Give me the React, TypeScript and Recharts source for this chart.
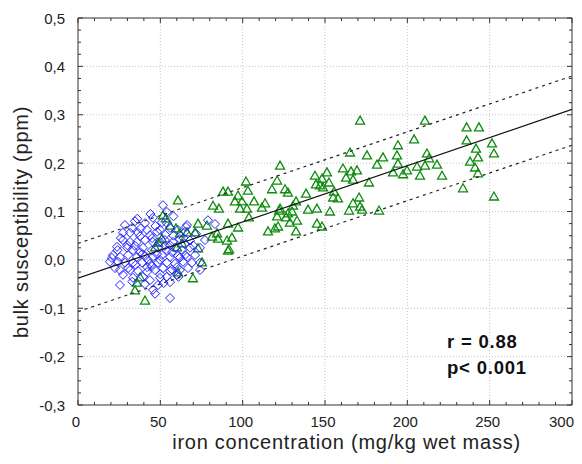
import React from 'react';
import { ScatterChart, Scatter, XAxis, YAxis, ReferenceLine } from 'recharts';

// ---- data ----
const greenX = [
  236, 243.5, 236, 241.7, 242.9, 238.1, 241.1, 242.9, 233.8, 251.4, 252.6, 252.6,
  210.7, 204.1, 194.3, 193.7, 194.3, 191.3, 197.4, 199.8, 205.9, 207.7, 211.9, 213.2, 210.7, 218.0, 221.1,
  171.3, 165.2, 175.5, 185.2, 181.6, 160.9, 165.8, 169.4, 162.8, 167.0, 151.2, 148.2, 152.4, 148.8, 176.7,
  155.5, 157.9, 154.9, 170.7, 167.0, 171.3, 164.6, 172.5, 153.0, 182.8, 148.2, 143.9, 144.5, 145.1, 139.7,
  145.1, 138.5, 147.0,
  122.7, 102.0, 120.9, 103.2, 117.8, 125.7, 127.5, 91.1, 88.1, 97.2, 95.3, 99.6, 106.9, 113.6, 98.4, 102.6,
  111.7, 132.4, 130.6, 130.0, 122.1, 127.5, 120.9, 126.3, 133.0, 128.7, 103.8, 91.1, 97.2, 115.4, 121.5,
  119.6, 93.5, 91.7, 132.4, 122.7,
  82.0, 85.6, 60.7, 51.6, 53.4, 72.9, 78.3, 55.9, 59.5, 61.9, 66.2, 71.1, 81.4, 84.4, 90.5, 85.0, 60.1,
  63.2, 91.1, 75.3, 69.8, 60.7, 37.7, 35.8, 34.6, 40.7, 51.0, 48.6, 46.8, 72.9,
];
const greenY = [
  0.275, 0.275, 0.248, 0.231, 0.213, 0.204, 0.192, 0.18, 0.149, 0.242, 0.221, 0.132,
  0.289, 0.25, 0.238, 0.217, 0.2, 0.182, 0.178, 0.186, 0.194, 0.175, 0.221, 0.211, 0.196, 0.198, 0.175,
  0.289, 0.223, 0.217, 0.213, 0.198, 0.19, 0.184, 0.186, 0.171, 0.167, 0.182, 0.169, 0.161, 0.151, 0.161,
  0.142, 0.128, 0.13, 0.13, 0.118, 0.111, 0.103, 0.105, 0.101, 0.103, 0.07, 0.175, 0.157, 0.107, 0.105,
  0.076, 0.138, 0.155,
  0.196, 0.163, 0.165, 0.144, 0.147, 0.147, 0.14, 0.142, 0.142, 0.134, 0.122, 0.122, 0.122, 0.118, 0.107, 0.107,
  0.109, 0.122, 0.113, 0.101, 0.103, 0.097, 0.091, 0.089, 0.082, 0.078, 0.089, 0.076, 0.068, 0.06, 0.07,
  0.066, 0.047, 0.023, 0.06, 0.107,
  0.113, 0.107, 0.124, 0.093, 0.087, 0.076, 0.072, 0.072, 0.066, 0.056, 0.058, 0.058, 0.049, 0.056, 0.041, 0.045, 0.027,
  0.035, 0.02, -0.004, -0.037, -0.025, -0.035, -0.046, -0.062, -0.083, 0.045, 0.037, 0.027, 0.025,
];
const blueX = [
  51.6, 54.0, 34.6, 40.7, 45.5, 51.0, 28.5, 32.8, 27.3, 31.6, 36.4, 41.9, 43.7, 48.0, 54.0, 55.9, 66.2, 65.0,
  27.3, 31.6, 35.8, 40.7, 45.5, 49.8, 52.8, 57.7, 61.9,
  23.7, 29.8, 33.4, 39.5, 44.9, 48.6, 54.0, 58.9, 63.2, 68.0,
  21.3, 25.5, 30.4, 35.8, 40.7, 45.5, 51.0, 55.9, 60.7, 66.2, 71.1,
  20.6, 24.3, 28.5, 33.4, 38.9, 43.7, 48.6, 54.0, 58.9, 63.8, 69.2,
  25.5, 31.6, 36.4, 41.9, 46.8, 51.6, 55.9, 61.9, 66.8,
  27.3, 33.4, 39.5, 43.7, 49.8, 54.0, 60.1, 25.5, 48.6, 45.5, 46.8, 55.9, 74.1,
  78.9, 83.2, 65.6, 60.7, 71.7, 65.0, 60.1, 74.1, 19.4, 22.5, 74.1, 77.1,
  37.7, 42.5, 49.8, 57.1, 34.6, 52.8, 30.4, 44.9, 65.0, 37.7, 49.8, 40.7, 55.9,
  26, 38, 47, 58, 62, 35, 42, 50, 57, 30, 45, 53, 64, 68, 24, 39, 56, 33, 52, 61, 70, 36, 44, 58, 48,
];
const blueY = [
  0.113, 0.099, 0.08, 0.076, 0.087, 0.078, 0.072, 0.066, 0.056, 0.056, 0.056, 0.062, 0.051, 0.058, 0.076, 0.066, 0.072, 0.058,
  0.041, 0.037, 0.037, 0.041, 0.037, 0.037, 0.041, 0.037, 0.043,
  0.027, 0.025, 0.02, 0.025, 0.02, 0.025, 0.02, 0.025, 0.02, 0.025,
  0.01, 0.006, 0.01, 0.006, 0.008, 0.006, 0.01, 0.006, 0.008, 0.006, 0.01,
  0.004, -0.004, -0.006, -0.006, -0.006, -0.008, -0.006, -0.006, -0.008, -0.004, -0.006,
  -0.021, -0.021, -0.023, -0.025, -0.021, -0.017, -0.023, -0.021, -0.017,
  -0.031, -0.037, -0.035, -0.042, -0.037, -0.035, -0.031, -0.052, -0.052, -0.062, -0.07, -0.079, -0.021,
  0.082, 0.074, 0.068, 0.062, 0.054, 0.01, -0.015, -0.006, -0.004, -0.017, 0.025, 0.041,
  0.016, 0.0, 0.0, 0.016, 0.029, 0.029, -0.017, -0.013, 0.033, 0.049, 0.062, -0.05, -0.046,
  0.045, 0.065, 0.07, 0.05, 0.005, -0.01, -0.015, -0.03, -0.02, 0.03, 0.045, 0.052, 0.045, 0.04, 0.02, 0.012,
  0.03, -0.045, -0.048, -0.035, 0.03, 0.085, 0.095, 0.09, 0.012,
];
const fitX = [0, 300];
const fitY = [-0.038, 0.311];
const upperY = [0.034, 0.38];
const lowerY = [-0.107, 0.237];

const xMajorTicks = [0, 50, 100, 150, 200, 250, 300];
const yMajorTicks = [-0.3, -0.2, -0.1, 0, 0.1, 0.2, 0.3, 0.4, 0.5];
const xTickLabels = ['0', '50', '100', '150', '200', '250', '300'];
const yTickLabels = ['-0,3', '-0,2', '-0,1', '0,0', '0,1', '0,2', '0,3', '0,4', '0,5'];
const xTitle = 'iron concentration (mg/kg wet mass)';
const yTitle = 'bulk susceptibility (ppm)';
const statLines = ['r = 0.88', 'p< 0.001'];

// minor ticks subdivide the major ticks
const xTicks: number[] = [];
for (let i = 0; i < xMajorTicks.length - 1; i++) {
  for (let k = 0; k < 5; k++) xTicks.push(xMajorTicks[i] + k * 10);
}
xTicks.push(xMajorTicks[xMajorTicks.length - 1]);
const yTicks: number[] = [];
for (let i = 0; i < yMajorTicks.length - 1; i++) {
  for (let k = 0; k < 4; k++) yTicks.push(Math.round((yMajorTicks[i] + k * 0.025) * 1000) / 1000);
}
yTicks.push(yMajorTicks[yMajorTicks.length - 1]);

const greenData = greenX.map((x, i) => ({ x, y: greenY[i] }));
const blueData = blueX.map((x, i) => ({ x, y: blueY[i] }));
const fitData = fitX.map((x, i) => ({ x, y: fitY[i] }));
const upperData = fitX.map((x, i) => ({ x, y: upperY[i] }));
const lowerData = fitX.map((x, i) => ({ x, y: lowerY[i] }));

// ---- style ----
const W = 566;
const H = 448;
const MARGIN = { top: 9, right: 1, bottom: 50, left: 69 };
const FONT = '"Liberation Sans", Arial, sans-serif';
const AXIS = '#333';
const TEXT = '#222';
const GRID = '#c4c4c4';
const BLUE = '#2020ff';
const GREEN = '#0e8c0e';
const MAJOR_LEN = 5;
const MINOR_LEN = 3;

const majorXIndex = (v: number) => xMajorTicks.findIndex((m) => Math.abs(m - v) < 1e-6);
const majorYIndex = (v: number) => yMajorTicks.findIndex((m) => Math.abs(m - v) < 1e-6);

const BottomTick = (p: any) => {
  const { x, y, payload } = p;
  const idx = majorXIndex(payload.value);
  const len = idx >= 0 ? MAJOR_LEN : MINOR_LEN;
  const last = idx === xMajorTicks.length - 1;
  return (
    <g>
      <line x1={x} y1={y} x2={x} y2={y - len} stroke={AXIS} strokeWidth={1} />
      {idx >= 0 && (
        <text
          x={last ? x + 2 : x - 2}
          y={y + 21.5}
          textAnchor={last ? 'end' : 'middle'}
          fontFamily={FONT}
          fontSize={15}
          fill={TEXT}
        >
          {xTickLabels[idx]}
        </text>
      )}
    </g>
  );
};
const TopTick = (p: any) => {
  const { x, y, payload } = p;
  const len = majorXIndex(payload.value) >= 0 ? MAJOR_LEN : MINOR_LEN;
  return <line x1={x} y1={y} x2={x} y2={y + len} stroke={AXIS} strokeWidth={1} />;
};
const LeftTick = (p: any) => {
  const { x, y, payload } = p;
  const idx = majorYIndex(payload.value);
  const len = idx >= 0 ? MAJOR_LEN : MINOR_LEN;
  return (
    <g>
      <line x1={x} y1={y} x2={x + len} y2={y} stroke={AXIS} strokeWidth={1} />
      {idx >= 0 && (
        <text x={x - 13} y={y + 5.5} textAnchor="end" fontFamily={FONT} fontSize={15} fill={TEXT}>
          {yTickLabels[idx]}
        </text>
      )}
    </g>
  );
};
const RightTick = (p: any) => {
  const { x, y, payload } = p;
  const len = majorYIndex(payload.value) >= 0 ? MAJOR_LEN : MINOR_LEN;
  return <line x1={x} y1={y} x2={x - len} y2={y} stroke={AXIS} strokeWidth={1} />;
};

const Diamond = (p: any) => {
  const { cx, cy } = p;
  if (cx == null || cy == null) return <g />;
  const r = 4.5;
  return (
    <path
      d={`M${cx},${cy - r}L${cx + r},${cy}L${cx},${cy + r}L${cx - r},${cy}Z`}
      fill="none"
      stroke={BLUE}
      strokeWidth={1}
    />
  );
};
const Triangle = (p: any) => {
  const { cx, cy } = p;
  if (cx == null || cy == null) return <g />;
  const h = 4;
  const w = 4.5;
  return (
    <path
      d={`M${cx},${cy - h}L${cx + w},${cy + h}L${cx - w},${cy + h}Z`}
      fill="none"
      stroke={GREEN}
      strokeWidth={1.3}
    />
  );
};
const NoDot = () => <g />;

export default function App() {
  return (
    <div style={{ position: 'relative', width: W, height: H }}>
      <style>{`html, body { overflow: hidden; } svg, .recharts-wrapper, .recharts-surface { overflow: visible !important; }`}</style>
      <ScatterChart width={W} height={H} margin={MARGIN}>
        <XAxis
          xAxisId="b"
          type="number"
          dataKey="x"
          domain={[0, 300]}
          ticks={xTicks}
          interval={0}
          allowDataOverflow
          height={1}
          tickSize={0}
          tickMargin={0}
          tickLine={false}
          axisLine={{ stroke: AXIS }}
          tick={BottomTick}
        />
        <XAxis
          xAxisId="t"
          orientation="top"
          type="number"
          dataKey="x"
          domain={[0, 300]}
          ticks={xTicks}
          interval={0}
          allowDataOverflow
          height={1}
          tickSize={0}
          tickMargin={0}
          tickLine={false}
          axisLine={{ stroke: AXIS }}
          tick={TopTick}
        />
        <YAxis
          yAxisId="l"
          type="number"
          dataKey="y"
          domain={[-0.3, 0.5]}
          ticks={yTicks}
          interval={0}
          allowDataOverflow
          width={1}
          tickSize={0}
          tickMargin={0}
          tickLine={false}
          axisLine={{ stroke: AXIS }}
          tick={LeftTick}
        />
        <YAxis
          yAxisId="r"
          orientation="right"
          type="number"
          dataKey="y"
          domain={[-0.3, 0.5]}
          ticks={yTicks}
          interval={0}
          allowDataOverflow
          width={1}
          tickSize={0}
          tickMargin={0}
          tickLine={false}
          axisLine={{ stroke: AXIS }}
          tick={RightTick}
        />
        {xMajorTicks.slice(1, -1).map((v) => (
          <ReferenceLine key={'gx' + v} x={v} xAxisId="b" yAxisId="l" stroke={GRID} strokeDasharray="1 2" />
        ))}
        {yMajorTicks.slice(1, -1).map((v) => (
          <ReferenceLine key={'gy' + v} y={v} xAxisId="b" yAxisId="l" stroke={GRID} strokeDasharray="1 2" />
        ))}
        <Scatter data={greenData} xAxisId="b" yAxisId="l" shape={Triangle} isAnimationActive={false} />
        <Scatter data={blueData} xAxisId="b" yAxisId="l" shape={Diamond} isAnimationActive={false} />
        <Scatter
          data={fitData}
          xAxisId="t"
          yAxisId="r"
          shape={NoDot}
          line={{ stroke: '#111', strokeWidth: 1.2 }}
          lineType="joint"
          isAnimationActive={false}
        />
        <Scatter
          data={upperData}
          xAxisId="t"
          yAxisId="r"
          shape={NoDot}
          line={{ stroke: '#222', strokeWidth: 1.2, strokeDasharray: '3 4' }}
          lineType="joint"
          isAnimationActive={false}
        />
        <Scatter
          data={lowerData}
          xAxisId="t"
          yAxisId="r"
          shape={NoDot}
          line={{ stroke: '#222', strokeWidth: 1.2, strokeDasharray: '3 4' }}
          lineType="joint"
          isAnimationActive={false}
        />
      </ScatterChart>
      <svg
        width={W}
        height={H}
        style={{ position: 'absolute', left: 0, top: 0, pointerEvents: 'none' }}
      >
        <text
          x={338.5}
          y={441}
          textAnchor="middle"
          fontFamily={FONT}
          fontSize={20}
          letterSpacing={0.75}
          fill={TEXT}
        >
          {xTitle}
        </text>
        <text
          transform="translate(19.5,214) rotate(-90)"
          textAnchor="middle"
          fontFamily={FONT}
          fontSize={20}
          letterSpacing={0.75}
          fill={TEXT}
        >
          {yTitle}
        </text>
        <text x={439} y={340} fontFamily={FONT} fontSize={18.5} fontWeight="bold" letterSpacing={0.8} fill="#111">
          {statLines[0]}
        </text>
        <text x={439} y={366} fontFamily={FONT} fontSize={18.5} fontWeight="bold" letterSpacing={0.8} fill="#111">
          {statLines[1]}
        </text>
      </svg>
    </div>
  );
}
